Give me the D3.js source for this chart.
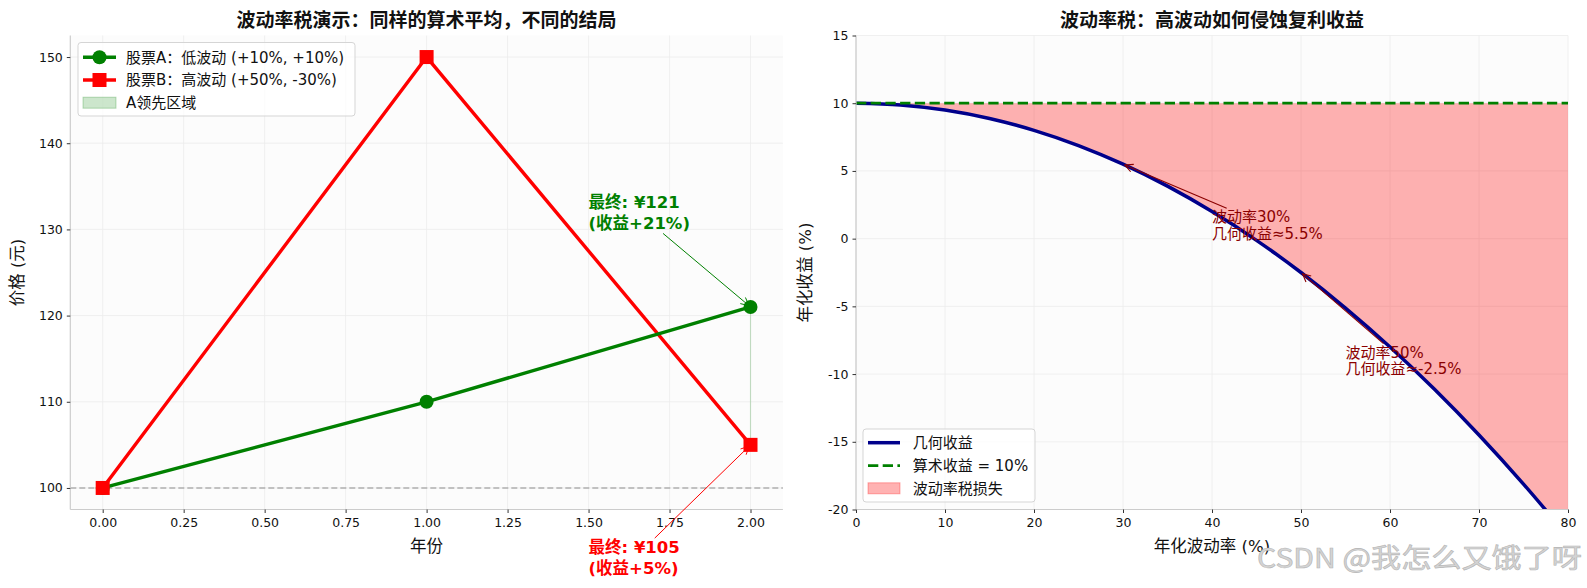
<!DOCTYPE html>
<html><head><meta charset="utf-8">
<script src="https://cdn.jsdelivr.net/npm/d3@7"></script>
<style>
html,body{margin:0;padding:0;background:#fff;}
svg text{font-family:'DejaVu Sans','Noto Sans CJK SC',sans-serif;}
</style></head>
<body><svg id="chart" width="1587" height="588"></svg>
<script>
// ---------- data ----------
const years = [0, 1, 2];
const stockA = [100, 110, 121];
const stockB = [100, 150, 105];
const leftXTicks = [0, 0.25, 0.5, 0.75, 1.0, 1.25, 1.5, 1.75, 2.0];
const leftYTicks = [100, 110, 120, 130, 140, 150];
const seriesNames = ["股票A：低波动 (+10%, +10%)", "股票B：高波动 (+50%, -30%)", "A领先区域"];
const finalLabels = [["最终: ¥121", "(收益+21%)"], ["最终: ¥105", "(收益+5%)"]];
const finalTextPos = [[1.5, 130], [1.5, 90]];

const volatility = [0, 5, 10, 15, 20, 25, 30, 35, 40, 45, 50, 55, 60, 65, 70, 75, 80];
const geoReturn = [10, 9.875, 9.5, 8.875, 8, 6.875, 5.5, 3.875, 2, -0.125, -2.5, -5.125, -8, -11.125, -14.5, -18.125, -22];
const arithReturn = 10;
const rightXTicks = [0, 10, 20, 30, 40, 50, 60, 70, 80];
const rightYTicks = [-20, -15, -10, -5, 0, 5, 10, 15];
const rightNames = ["几何收益", "算术收益 = 10%", "波动率税损失"];
const volNotes = [{x: 30, y: 5.5, tx: 40, ty: 0, lines: ["波动率30%", "几何收益≈5.5%"]},
                  {x: 50, y: -2.5, tx: 55, ty: -10, lines: ["波动率50%", "几何收益≈-2.5%"]}];

// ---------- setup ----------
const svg = d3.select("#chart");
const TOP = 35.5, BOT = 509.5;
const CJK = "'Noto Sans CJK SC','DejaVu Sans',sans-serif";

function arrow(g, x0, y0, x1, y1, color, w) {
  g.append("line").attr("x1", x0).attr("y1", y0).attr("x2", x1).attr("y2", y1)
    .attr("stroke", color).attr("stroke-width", w);
  const a = Math.atan2(y1 - y0, x1 - x0), L = 8, W = 4;
  const p = [[x1 - L*Math.cos(a) + W*Math.sin(a), y1 - L*Math.sin(a) - W*Math.cos(a)], [x1, y1],
             [x1 - L*Math.cos(a) - W*Math.sin(a), y1 - L*Math.sin(a) + W*Math.cos(a)]];
  g.append("path").attr("d", d3.line()(p)).attr("fill", "none").attr("stroke", color).attr("stroke-width", w);
}
function annotate(g, lines, tx, ty, px, py, color, size, lh, weight, aw) {
  const t = g.append("text").attr("fill", color).attr("font-size", size).attr("font-weight", weight);
  lines.forEach((s, i) => t.append("tspan").attr("x", tx).attr("y", ty - (lines.length - 1 - i) * lh).text(s));
  const b = t.node().getBBox();
  const cx = b.x + b.width/2, cy = b.y + b.height/2;
  const dx = px - cx, dy = py - cy;
  let tt = 1;
  if (dx !== 0) tt = Math.min(tt, Math.abs((b.width/2) / dx));
  if (dy !== 0) tt = Math.min(tt, Math.abs((b.height/2) / dy));
  const sx = cx + dx*tt, sy = cy + dy*tt;
  const len = Math.hypot(px - sx, py - sy);
  const ex = px - (px - sx)/len*2, ey = py - (py - sy)/len*2;
  arrow(g, sx, sy, ex, ey, color, aw);
}
function axisStyle(g) {
  g.selectAll(".domain").attr("stroke", "#cccccc").attr("stroke-width", 1.2);
  g.selectAll(".tick line").attr("stroke", "#333").attr("stroke-width", 1);
  g.selectAll(".tick text").attr("fill", "#111").attr("font-size", 12.5)
    .attr("font-family", "'DejaVu Sans',sans-serif");
}

// ---------- left chart ----------
{
  const x = d3.scaleLinear().domain([-0.1, 2.1]).range([70.3, 782.9]);
  const y = d3.scaleLinear().domain([97.5, 152.5]).range([BOT, TOP]);
  const g = svg.append("g");
  g.append("rect").attr("x", x.range()[0]).attr("y", TOP).attr("width", x.range()[1] - x.range()[0])
    .attr("height", BOT - TOP).attr("fill", "#fcfcfc");
  // grid
  g.selectAll(".gx").data(leftXTicks).join("line").attr("x1", d => x(d)).attr("x2", d => x(d))
    .attr("y1", TOP).attr("y2", BOT).attr("stroke", "#ececec").attr("stroke-width", 0.8);
  g.selectAll(".gy").data(leftYTicks).join("line").attr("y1", d => y(d)).attr("y2", d => y(d))
    .attr("x1", x.range()[0]).attr("x2", x.range()[1]).attr("stroke", "#ececec").attr("stroke-width", 0.8);
  // baseline
  g.append("line").attr("x1", x.range()[0]).attr("x2", x.range()[1]).attr("y1", y(100)).attr("y2", y(100))
    .attr("stroke", "#b0b0b0").attr("stroke-width", 1.5).attr("stroke-dasharray", "6,3");
  // A lead region (degenerate fill at final point)
  years.forEach((yr, i) => {
    if (stockA[i] > stockB[i]) {
      g.append("line").attr("x1", x(yr)).attr("x2", x(yr)).attr("y1", y(stockA[i])).attr("y2", y(stockB[i]))
        .attr("stroke", "rgba(0,128,0,0.2)").attr("stroke-width", 1.2);
    }
  });
  const ln = d3.line().x((d, i) => x(years[i])).y(d => y(d));
  g.append("path").attr("d", ln(stockB)).attr("fill", "none").attr("stroke", "#ff0000").attr("stroke-width", 3.4);
  g.append("path").attr("d", ln(stockA)).attr("fill", "none").attr("stroke", "#008000").attr("stroke-width", 3.4);
  g.selectAll(".mA").data(stockA).join("circle").attr("cx", (d, i) => x(years[i])).attr("cy", d => y(d))
    .attr("r", 7).attr("fill", "#008000");
  g.selectAll(".mB").data(stockB).join("rect").attr("x", (d, i) => x(years[i]) - 7).attr("y", d => y(d) - 7)
    .attr("width", 14).attr("height", 14).attr("fill", "#ff0000");
  // axes
  const ax = g.append("g").attr("transform", `translate(0,${BOT})`)
    .call(d3.axisBottom(x).tickValues(leftXTicks).tickFormat(d3.format(".2f")).tickSize(3.5).tickPadding(5));
  axisStyle(ax);
  const ay = g.append("g").attr("transform", `translate(${x.range()[0]},0)`)
    .call(d3.axisLeft(y).tickValues(leftYTicks).tickSize(3.5).tickPadding(4));
  axisStyle(ay);
  ax.select(".domain").attr("d", `M${x.range()[0]},0H${x.range()[1]}`);
  ay.select(".domain").attr("d", `M0,${BOT}V${TOP}`);
  // labels
  g.append("text").attr("x", 426.6).attr("y", 27).attr("text-anchor", "middle").attr("font-size", 19)
    .attr("font-weight", "bold").style("font-family", CJK).attr("fill", "#111").text("波动率税演示：同样的算术平均，不同的结局");
  g.append("text").attr("x", 426.6).attr("y", 552).attr("text-anchor", "middle").attr("font-size", 16.5)
    .attr("fill", "#111").text("年份");
  g.append("text").attr("transform", `translate(23,${(TOP + BOT)/2}) rotate(-90)`).attr("text-anchor", "middle")
    .attr("font-size", 16.5).attr("fill", "#111").text("价格 (元)");
  // annotations
  annotate(g, finalLabels[0], x(finalTextPos[0][0]), y(finalTextPos[0][1]), x(years[2]), y(stockA[2]),
           "#008000", 16.5, 21, "bold", 1);
  annotate(g, finalLabels[1], x(finalTextPos[1][0]), y(finalTextPos[1][1]), x(years[2]), y(stockB[2]),
           "#ff0000", 16.5, 21, "bold", 1);
  // legend
  const lg = g.append("g");
  lg.append("rect").attr("x", 78).attr("y", 42.5).attr("width", 277).attr("height", 73.5).attr("rx", 3)
    .attr("fill", "rgba(255,255,255,0.8)").attr("stroke", "#d5d5d5");
  const ly = [57.3, 80, 102.7];
  lg.append("line").attr("x1", 83).attr("x2", 116).attr("y1", ly[0]).attr("y2", ly[0]).attr("stroke", "#008000").attr("stroke-width", 3.4);
  lg.append("circle").attr("cx", 99.5).attr("cy", ly[0]).attr("r", 7).attr("fill", "#008000");
  lg.append("line").attr("x1", 83).attr("x2", 116).attr("y1", ly[1]).attr("y2", ly[1]).attr("stroke", "#ff0000").attr("stroke-width", 3.4);
  lg.append("rect").attr("x", 92.5).attr("y", ly[1] - 7).attr("width", 14).attr("height", 14).attr("fill", "#ff0000");
  lg.append("rect").attr("x", 83).attr("y", ly[2] - 5.5).attr("width", 33).attr("height", 11)
    .attr("fill", "rgba(0,128,0,0.2)").attr("stroke", "rgba(0,128,0,0.25)");
  seriesNames.forEach((s, i) => lg.append("text").attr("x", 126).attr("y", ly[i] + 5.3).attr("font-size", 15)
    .attr("fill", "#111").text(s));
}

// ---------- right chart ----------
{
  const x = d3.scaleLinear().domain([0, 80]).range([856, 1568]);
  const y = d3.scaleLinear().domain([-20, 15]).range([BOT, TOP]);
  const g = svg.append("g");
  g.append("defs").append("clipPath").attr("id", "rc").append("rect")
    .attr("x", 856).attr("y", TOP).attr("width", 712).attr("height", BOT - TOP);
  g.append("rect").attr("x", 856).attr("y", TOP).attr("width", 712).attr("height", BOT - TOP).attr("fill", "#fcfcfc");
  g.selectAll(".gx").data(rightXTicks).join("line").attr("x1", d => x(d)).attr("x2", d => x(d))
    .attr("y1", TOP).attr("y2", BOT).attr("stroke", "#ececec").attr("stroke-width", 0.8);
  g.selectAll(".gy").data(rightYTicks).join("line").attr("y1", d => y(d)).attr("y2", d => y(d))
    .attr("x1", 856).attr("x2", 1568).attr("stroke", "#ececec").attr("stroke-width", 0.8);
  const pg = g.append("g").attr("clip-path", "url(#rc)");
  const area = d3.area().x((d, i) => x(volatility[i])).y0(() => y(arithReturn)).y1(d => y(d)).curve(d3.curveMonotoneX);
  pg.append("path").attr("d", area(geoReturn)).attr("fill", "rgba(255,0,0,0.3)");
  const ln = d3.line().x((d, i) => x(volatility[i])).y(d => y(d)).curve(d3.curveMonotoneX);
  pg.append("path").attr("d", ln(geoReturn)).attr("fill", "none").attr("stroke", "#00008b").attr("stroke-width", 3.5);
  pg.append("line").attr("x1", x(0)).attr("x2", x(80)).attr("y1", y(arithReturn)).attr("y2", y(arithReturn))
    .attr("stroke", "#008000").attr("stroke-width", 2.8).attr("stroke-dasharray", "10.3,4.4");
  const ax = g.append("g").attr("transform", `translate(0,${BOT})`)
    .call(d3.axisBottom(x).tickValues(rightXTicks).tickSize(3.5).tickPadding(5));
  axisStyle(ax);
  const ay = g.append("g").attr("transform", `translate(856,0)`)
    .call(d3.axisLeft(y).tickValues(rightYTicks).tickSize(3.5).tickPadding(4).tickFormat(d => String(d)));
  axisStyle(ay);
  ax.select(".domain").attr("d", `M856,0H1568`);
  ay.select(".domain").attr("d", `M0,${BOT}V${TOP}`);
  g.append("text").attr("x", 1212).attr("y", 27).attr("text-anchor", "middle").attr("font-size", 19)
    .attr("font-weight", "bold").style("font-family", CJK).attr("fill", "#111").text("波动率税：高波动如何侵蚀复利收益");
  g.append("text").attr("x", 1212).attr("y", 552).attr("text-anchor", "middle").attr("font-size", 16.5)
    .attr("fill", "#111").text("年化波动率 (%)");
  g.append("text").attr("transform", `translate(811,${(TOP + BOT)/2}) rotate(-90)`).attr("text-anchor", "middle")
    .attr("font-size", 16.5).attr("fill", "#111").text("年化收益 (%)");
  volNotes.forEach(n => annotate(g, n.lines, x(n.tx), y(n.ty), x(n.x), y(n.y), "#8b0000", 15, 16.5, "normal", 1.1));
  // legend
  const lg = g.append("g");
  lg.append("rect").attr("x", 863).attr("y", 429).attr("width", 172).attr("height", 73).attr("rx", 3)
    .attr("fill", "rgba(255,255,255,0.8)").attr("stroke", "#d5d5d5");
  const ly = [442.7, 465.7, 488.3];
  lg.append("line").attr("x1", 868).attr("x2", 900).attr("y1", ly[0]).attr("y2", ly[0]).attr("stroke", "#00008b").attr("stroke-width", 3.5);
  lg.append("line").attr("x1", 868).attr("x2", 900).attr("y1", ly[1]).attr("y2", ly[1]).attr("stroke", "#008000")
    .attr("stroke-width", 2.8).attr("stroke-dasharray", "10.3,4.4");
  lg.append("rect").attr("x", 868).attr("y", ly[2] - 5.5).attr("width", 32).attr("height", 11)
    .attr("fill", "rgba(255,0,0,0.3)").attr("stroke", "rgba(255,0,0,0.3)");
  rightNames.forEach((s, i) => lg.append("text").attr("x", 912.7).attr("y", ly[i] + 5.3).attr("font-size", 15)
    .attr("fill", "#111").text(s));
}

// watermark
svg.append("text").attr("x", 1257).attr("y", 568).attr("font-size", 27).style("font-family", CJK)
  .attr("textLength", 325).attr("lengthAdjust", "spacingAndGlyphs")
  .attr("fill", "#d4d4d4").attr("stroke", "#b5b5b5").attr("stroke-width", 0.6).text("CSDN @我怎么又饿了呀");
</script></body></html>
